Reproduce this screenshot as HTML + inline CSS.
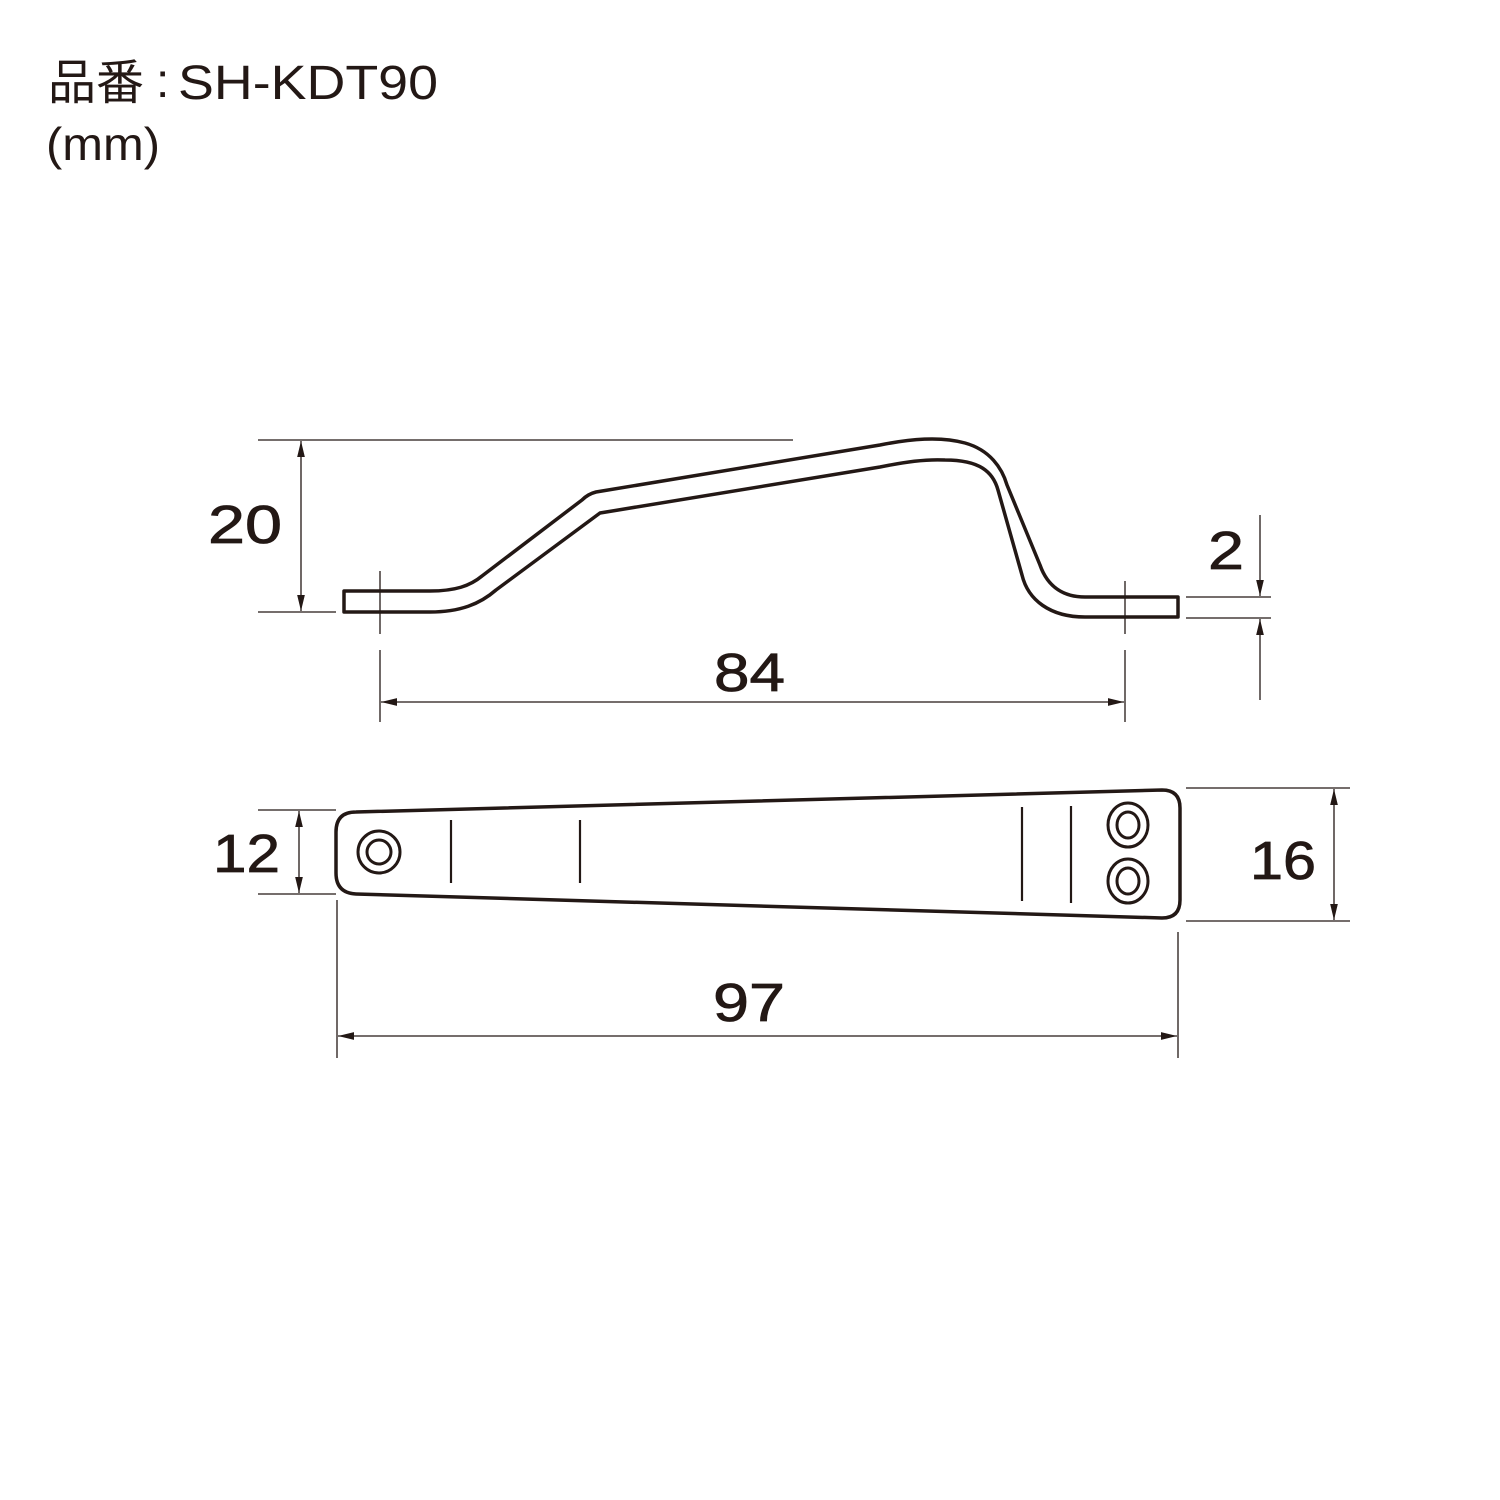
<!DOCTYPE html>
<html><head><meta charset="utf-8"><style>
html,body{margin:0;padding:0;background:#fff}
svg{display:block}
text{font-family:"Liberation Sans","Noto Sans CJK JP",sans-serif;fill:#231815}
.d{stroke:#231815;stroke-width:0.8}
</style></head><body>
<svg width="1500" height="1500" viewBox="0 0 1500 1500" xmlns="http://www.w3.org/2000/svg">
<defs>
<marker id="a" viewBox="0 0 10 10" refX="10" refY="5" markerWidth="16" markerHeight="16" markerUnits="userSpaceOnUse" orient="auto-start-reverse"><path d="M0,2.6 L10,5 L0,7.4 z" fill="#231815"/></marker>
</defs>
<text x="48" y="99" font-size="48">品番</text>
<text x="156" y="97" font-size="48">:</text>
<text x="178" y="99" font-size="48" textLength="260" lengthAdjust="spacingAndGlyphs">SH-KDT90</text>
<text x="46" y="160" font-size="46" textLength="114" lengthAdjust="spacingAndGlyphs">(mm)</text>

<g stroke="#231815" fill="none">
<g stroke-width="3.5" stroke-linejoin="round">
<path d="M430,591 L344,591 L344,612 L430,612"/>
<path d="M430,591 C455,591 470,586 482,576 L582,500 Q588,494 596,492 L880,445 C910,439 940,436 965,443 C990,450 1002,468 1007,485 L1040,565 C1048,588 1065,597 1085,597 L1178,597 L1178,617 L1085,617 C1050,617 1028,600 1022,575 L998,490 C993,472 980,460 945,460 C925,459 905,462 880,467 L600,513 L496,590 C480,604 460,612 430,612"/>
</g>
<g stroke-width="1.3">
<line x1="258" y1="440" x2="793" y2="440"/>
<line x1="258" y1="612" x2="336" y2="612"/>
<line x1="301" y1="441" x2="301" y2="611" marker-start="url(#a)" marker-end="url(#a)"/>
<line x1="380" y1="571" x2="380" y2="634"/>
<line x1="380" y1="650" x2="380" y2="722"/>
<line x1="1125" y1="581" x2="1125" y2="634"/>
<line x1="1125" y1="650" x2="1125" y2="722"/>
<line x1="381" y1="702" x2="1124" y2="702" marker-start="url(#a)" marker-end="url(#a)"/>
<line x1="1186" y1="597" x2="1271" y2="597"/>
<line x1="1186" y1="618" x2="1271" y2="618"/>
<line x1="1260" y1="515" x2="1260" y2="596" marker-end="url(#a)"/>
<line x1="1260" y1="700" x2="1260" y2="619" marker-end="url(#a)"/>
</g>

<g stroke-width="3.5">
<path d="M356,812 L1162,790 Q1180,790 1180,808 L1180,900 Q1180,918 1162,918 L356,894 Q336,893 336,873 L336,832 Q336,812 356,812 Z"/>
<circle cx="379" cy="852" r="21" stroke-width="3"/>
<circle cx="379" cy="852" r="12" stroke-width="3"/>
<ellipse cx="1128" cy="825" rx="20" ry="22" stroke-width="3"/>
<ellipse cx="1128" cy="825" rx="11" ry="13" stroke-width="3"/>
<ellipse cx="1128" cy="881" rx="20" ry="22" stroke-width="3"/>
<ellipse cx="1128" cy="881" rx="11" ry="13" stroke-width="3"/>
</g>
<g stroke-width="2.2">
<line x1="451" y1="820" x2="451" y2="883"/>
<line x1="580" y1="820" x2="580" y2="883"/>
<line x1="1022" y1="807" x2="1022" y2="901"/>
<line x1="1071" y1="806" x2="1071" y2="903"/>
</g>
<g stroke-width="1.3">
<line x1="258" y1="810" x2="336" y2="810"/>
<line x1="258" y1="894" x2="336" y2="894"/>
<line x1="299" y1="811" x2="299" y2="893" marker-start="url(#a)" marker-end="url(#a)"/>
<line x1="1186" y1="788" x2="1350" y2="788"/>
<line x1="1186" y1="921" x2="1350" y2="921"/>
<line x1="1334" y1="789" x2="1334" y2="920" marker-start="url(#a)" marker-end="url(#a)"/>
<line x1="337" y1="900" x2="337" y2="1058"/>
<line x1="1178" y1="932" x2="1178" y2="1058"/>
<line x1="338" y1="1036" x2="1177" y2="1036" marker-start="url(#a)" marker-end="url(#a)"/>
</g>
</g>

<text class="d" x="208" y="543" font-size="54" textLength="74" lengthAdjust="spacingAndGlyphs">20</text>
<text class="d" x="714" y="691" font-size="54" textLength="71" lengthAdjust="spacingAndGlyphs">84</text>
<text class="d" x="1208" y="569" font-size="54" textLength="36" lengthAdjust="spacingAndGlyphs">2</text>
<text class="d" x="213" y="872" font-size="54" textLength="67" lengthAdjust="spacingAndGlyphs">12</text>
<text class="d" x="1250" y="879" font-size="54" textLength="66" lengthAdjust="spacingAndGlyphs">16</text>
<text class="d" x="713" y="1021" font-size="54" textLength="72" lengthAdjust="spacingAndGlyphs">97</text>
</svg>
</body></html>
